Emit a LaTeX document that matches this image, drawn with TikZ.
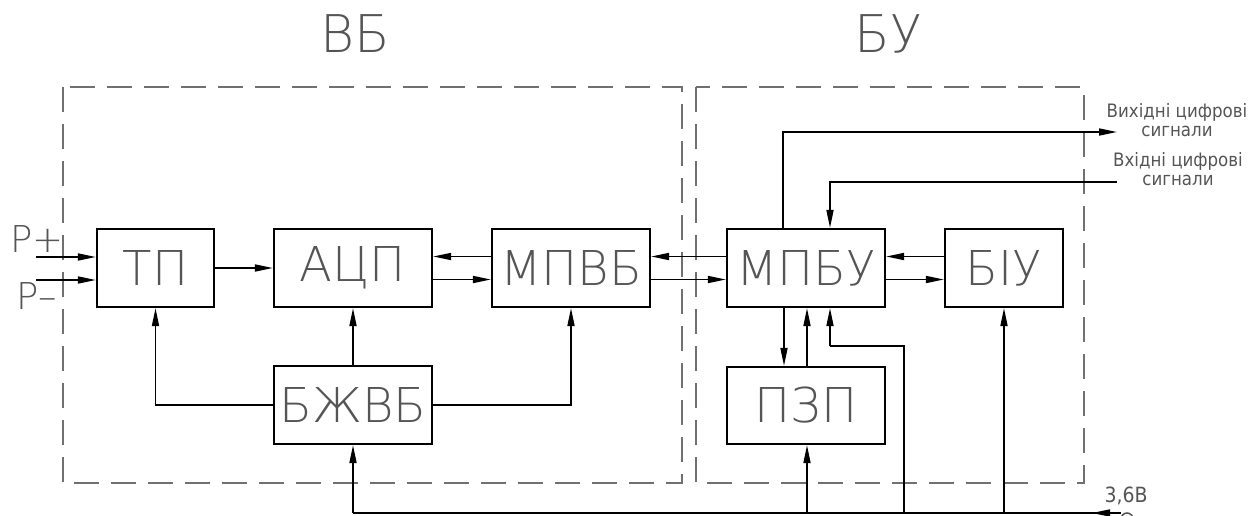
\documentclass[tikz,border=0pt]{standalone}
\usepackage{fontspec}
\usetikzlibrary{arrows.meta}
\IfFontExistsTF{DejaVu Sans ExtraLight}{\newfontfamily\lblfont{DejaVu Sans ExtraLight}}{\newfontfamily\lblfont{DejaVu Sans}}
\newfontfamily\smallfont{DejaVu Sans Condensed}
\definecolor{labelgray}{HTML}{555555}
\definecolor{dashgray}{HTML}{707070}
\tikzset{
  blk/.style={draw=black, line width=2.2pt, minimum height=78pt, inner sep=0pt,
    font=\lblfont\fontsize{48}{50}\selectfont, text=labelgray},
  ttl/.style={inner sep=0pt, font=\lblfont\fontsize{52}{54}\selectfont, text=labelgray},
  plbl/.style={inner sep=0pt, font=\lblfont\fontsize{37}{40}\selectfont, text=labelgray},
  sml/.style={inner sep=0pt, align=center, font=\smallfont\fontsize{18.5}{19}\selectfont, text=labelgray},
  vlbl/.style={inner sep=0pt, font=\smallfont\fontsize{21}{23}\selectfont, text=labelgray},
  conn/.style={line width=1.7pt, draw=black},
  arr/.style={conn, -{Triangle[length=18pt,width=7pt]}},
  grp/.style={draw=dashgray, line width=2pt, dash pattern=on 25pt off 12pt},
}
\begin{document}
\begin{tikzpicture}[x=1pt,y=-1pt]
\useasboundingbox (0,0) rectangle (1248,515);
% group frames
\draw[grp] (63,87) rectangle (682,483);
\draw[grp] (696,87) rectangle (1084,483);
\node[ttl] (tvb) at (355,34) {ВБ};
\node[ttl] (tbu) at (888,34) {БУ};
% blocks
\node[blk, minimum width=117pt] (tp) at (155.5,268) {ТП};
\node[blk, minimum width=158pt] (adc) at (353,268) {АЦП};
\node[blk, minimum width=158pt] (mpvb) at (571,268) {МПВБ};
\node[blk, minimum width=158pt] (bzh) at (353,405) {БЖВБ};
\node[blk, minimum width=158pt] (mpbu) at (806,268) {МПБУ};
\node[blk, minimum width=118pt] (biu) at (1004,268) {БІУ};
\node[blk, minimum width=158pt, minimum height=77pt] (pzp) at (806,405.5) {ПЗП};
% inputs P+ P-
\coordinate (pin1) at (36,257);
\coordinate (pin2) at (36,280);
\draw[arr] (pin1) -- (pin1 -| tp.west);
\draw[arr] (pin2) -- (pin2 -| tp.west);
\node[plbl] (lp1) at (37,239) {Р+};
\node[plbl] (lp2) at (37,296) {Р–};
% horizontal links
\draw[arr] (tp) -- (adc);
\draw[arr] ([yshift=11.5pt]mpvb.west) -- ([yshift=11.5pt]adc.east);
\draw[arr] ([yshift=-11.5pt]adc.east) -- ([yshift=-11.5pt]mpvb.west);
\draw[arr] ([yshift=11.5pt]mpbu.west) -- ([yshift=11.5pt]mpvb.east);
\draw[arr] ([yshift=-11.5pt]mpvb.east) -- ([yshift=-11.5pt]mpbu.west);
\draw[arr] ([yshift=11.5pt]biu.west) -- ([yshift=11.5pt]mpbu.east);
\draw[arr] ([yshift=-11.5pt]mpbu.east) -- ([yshift=-11.5pt]biu.west);
% power block links
\draw[arr] (bzh.west) -| (tp.south);
\draw[arr] (bzh.north) -- (adc.south);
\draw[arr] (bzh.east) -| (mpvb.south);
% MPBU <-> PZP
\draw[arr] ([xshift=-22pt]mpbu.south) -- ([xshift=-22pt]pzp.north);
\draw[arr] ([xshift=1pt]pzp.north) -- ([xshift=1pt]mpbu.south);
% supply bus
\coordinate (busL) at (353,513);
\coordinate (busR) at (1121,513);
\coordinate (busTip) at (1092,513);
\coordinate (b3) at (904,513);
\coordinate (k1) at (830,346);
\draw[conn] (busL) -- (busR);
\draw[arr] (busR) -- (busTip);
\draw[arr] (busL) -- (bzh.south);
\draw[arr] ([xshift=1pt]pzp.south |- busL) -- ([xshift=1pt]pzp.south);
\draw[conn] (b3) |- (k1);
\draw[arr] (k1) -- ([xshift=24pt]mpbu.south);
\draw[arr] (biu.south |- busL) -- (biu.south);
\draw[draw=labelgray, line width=1.5pt] (1127,519) circle (6pt);
\node[vlbl] (l36) at (1126,496) {3,6В};
% digital signals
\coordinate (outE) at (1117,132);
\coordinate (inE) at (1117,182);
\draw[arr] ([xshift=-23pt]mpbu.north) |- (outE);
\draw[arr] (inE) -| ([xshift=24pt]mpbu.north);
\node[sml] (lout) at (1177,120) {Вихідні цифрові\\сигнали};
\node[sml] (lin) at (1178,169) {Вхідні цифрові\\сигнали};
\end{tikzpicture}
\end{document}
